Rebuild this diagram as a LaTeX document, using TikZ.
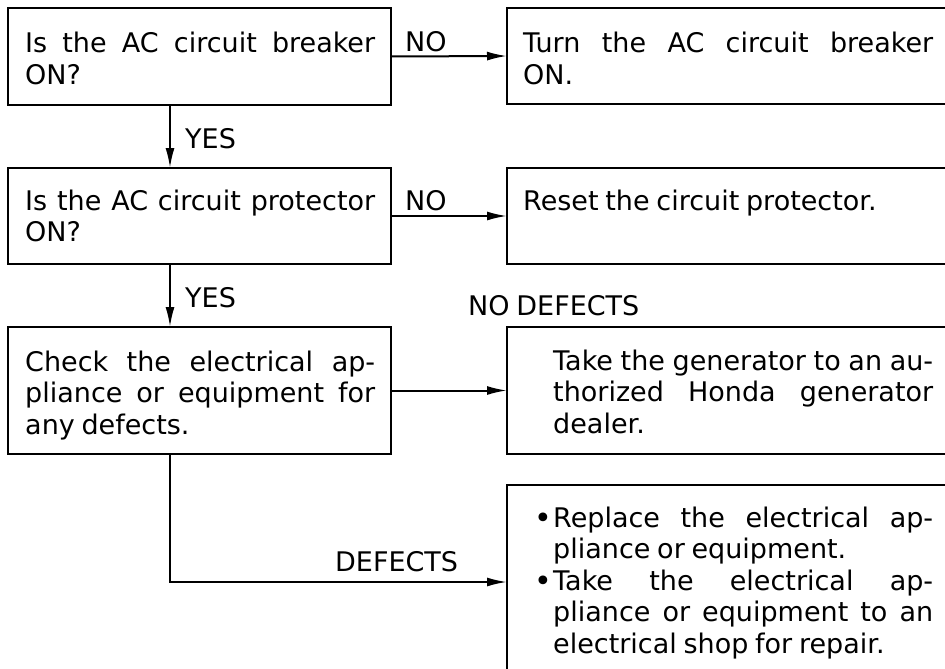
\documentclass[tikz,border=0pt]{standalone}
\usepackage{fontspec}
\setmainfont{DejaVu Sans}
\usetikzlibrary{arrows.meta}
\newcommand{\bxfont}{\fontsize{27}{31.5}\selectfont\spaceskip=0.25em plus 2em minus 0.03em\relax\hyphenpenalty=10000\exhyphenpenalty=10000\parindent=0pt\relax}
\newcommand{\tb}[2]{\parbox[t]{#1}{\bxfont #2}}
\newcommand{\bul}{\leavevmode\llap{\raisebox{-1pt}{\fontsize{30}{30}\selectfont •}\hspace{1pt}}}
\begin{document}
\begin{tikzpicture}[x=1pt,y=-1pt,
  box/.style={draw, line width=2pt, anchor=north west, inner sep=0pt, outer sep=0pt},
  txt/.style={anchor=base west, inner sep=0pt},
  lbl/.style={anchor=base west, inner sep=0pt, font=\bxfont},
  arr/.style={line width=2pt, -{Latex[length=20pt,width=9pt]}}]
\useasboundingbox (0,0) rectangle (945,669);
\clip (0,0) rectangle (945,669);
% left boxes
\node[box, minimum width=383pt, minimum height=97pt] (b1) at (8,8) {};
\node[box, minimum width=383pt, minimum height=96pt] (b2) at (8,168) {};
\node[box, minimum width=383pt, minimum height=127pt] (b3) at (8,327) {};
% right boxes
\node[box, minimum width=453pt, minimum height=96pt] (r1) at (507,8) {};
\node[box, minimum width=453pt, minimum height=96pt] (r2) at (507,168) {};
\node[box, minimum width=453pt, minimum height=127pt] (r3) at (507,327) {};
\node[box, minimum width=453pt, minimum height=194pt] (r4) at (507,485) {};
% texts
\node[txt] (t1) at (25,53) {\tb{350pt}{Is the AC circuit breaker\linebreak ON?}};
\node[txt] (t2) at (25,210) {\tb{350pt}{Is the AC circuit protector\linebreak ON?}};
\node[txt] (t3) at (25,371) {\tb{350pt}{Check the electrical ap-\linebreak pliance or equipment for\linebreak any defects.}};
\node[txt] (s1) at (523,53) {\tb{410pt}{Turn the AC circuit breaker\linebreak ON.}};
\node[txt] (s2) at (523,210) {\tb{410pt}{Reset the circuit protector.}};
\node[txt] (s3) at (553,370) {\tb{380pt}{Take the generator to an au-\linebreak thorized Honda generator\linebreak dealer.}};
\node[txt] (s4) at (553,527) {\tb{380pt}{\bul Replace the electrical ap-\linebreak pliance or equipment.\par
\bul Take the electrical ap-\linebreak pliance or equipment to an\linebreak electrical shop for repair.}};
% labels
\node[lbl] (no1) at (405,52) {NO};
\node[lbl] (no2) at (405,210) {NO};
\node[lbl] (yes1) at (185,148) {YES};
\node[lbl] (yes2) at (185,307) {YES};
\node[lbl] (nod) at (468,315) {NO DEFECTS};
\node[lbl] (def) at (335,571) {DEFECTS};
% connectors
\draw[arr] (b1.east) -- (r1.west);
\draw[arr] (b2.east) -- (r2.west);
\draw[arr] (b3.east) -- (r3.west);
\draw[arr] ([xshift=-29.5pt]b1.south) -- ([xshift=-29.5pt]b2.north);
\draw[arr] ([xshift=-29.5pt]b2.south) -- ([xshift=-29.5pt]b3.north);
\draw[arr] ([xshift=-29.5pt]b3.south) |- (r4.west);
\end{tikzpicture}
\end{document}
